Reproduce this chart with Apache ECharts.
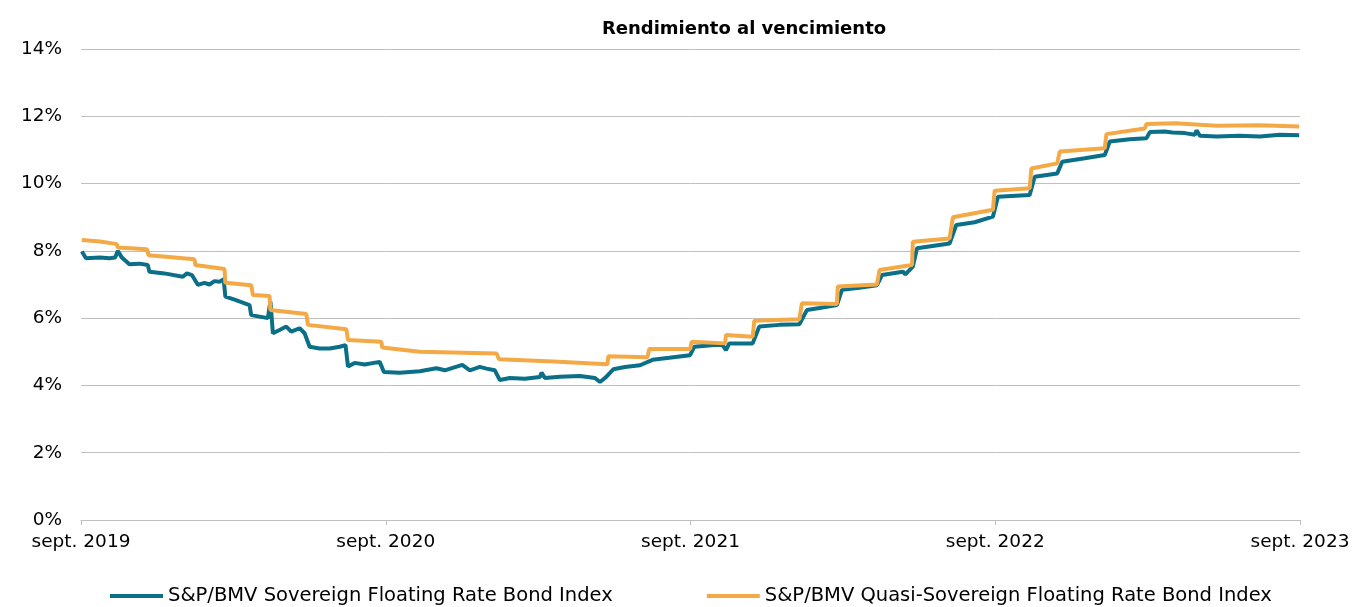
<!DOCTYPE html>
<html>
<head>
<meta charset="utf-8">
<script src="https://cdn.jsdelivr.net/npm/echarts@6/dist/echarts.min.js"></script>
<style>
  html, body { margin: 0; padding: 0; background: #fff; }
  #chart { width: 1356px; height: 607px; }
</style>
</head>
<body>
<div id="chart"></div>
<script>
const SOV_NAME = 'S&P/BMV Sovereign Floating Rate Bond Index';
const QUASI_NAME = 'S&P/BMV Quasi-Sovereign Floating Rate Bond Index';
const START_DATE = '2019-09-01'; //起点（第一个刻度）
const yearLabels = ['sept. 2019', 'sept. 2020', 'sept. 2021', 'sept. 2022', 'sept. 2023'];

//Sovereign 指数
const sovDates = [
  '2019-09-02', '2019-09-07', '2019-09-24', '2019-10-05', '2019-10-12', '2019-10-15', '2019-10-20', '2019-10-29',
  '2019-11-10', '2019-11-20', '2019-11-22', '2019-12-10', '2020-01-01', '2020-01-06', '2020-01-12', '2020-01-19',
  '2020-01-27', '2020-02-02', '2020-02-08', '2020-02-14', '2020-02-19', '2020-02-21', '2020-03-03', '2020-03-21',
  '2020-03-23', '2020-04-12', '2020-04-15', '2020-04-18', '2020-04-26', '2020-05-04', '2020-05-10', '2020-05-20',
  '2020-05-26', '2020-06-01', '2020-06-13', '2020-06-25', '2020-07-07', '2020-07-14', '2020-07-17', '2020-07-25',
  '2020-08-06', '2020-08-24', '2020-08-29', '2020-09-17', '2020-10-11', '2020-10-31', '2020-11-10', '2020-12-01',
  '2020-12-10', '2020-12-22', '2020-12-30', '2021-01-09', '2021-01-15', '2021-01-27', '2021-02-14', '2021-03-04',
  '2021-03-06', '2021-03-10', '2021-03-28', '2021-04-21', '2021-05-09', '2021-05-15', '2021-05-21', '2021-05-31',
  '2021-06-14', '2021-07-02', '2021-07-17', '2021-08-06', '2021-08-31', '2021-09-05', '2021-09-29', '2021-10-09',
  '2021-10-13', '2021-10-17', '2021-11-14', '2021-11-22', '2021-12-16', '2022-01-09', '2022-01-18', '2022-02-02',
  '2022-02-23', '2022-03-01', '2022-03-22', '2022-04-12', '2022-04-18', '2022-05-13', '2022-05-16', '2022-05-25',
  '2022-05-30', '2022-07-08', '2022-07-16', '2022-08-07', '2022-08-29', '2022-09-04', '2022-10-12', '2022-10-18',
  '2022-11-14', '2022-11-20', '2022-12-17', '2023-01-10', '2023-01-16', '2023-02-09', '2023-03-01', '2023-03-05',
  '2023-03-23', '2023-04-01', '2023-04-16', '2023-04-28', '2023-04-30', '2023-05-04', '2023-05-24', '2023-06-20',
  '2023-07-15', '2023-08-08', '2023-08-31'
];
const sovValues = [
  7.98, 7.78, 7.80, 7.78, 7.80, 8.00, 7.80, 7.60,
  7.62, 7.58, 7.38, 7.33, 7.23, 7.33, 7.28, 6.99,
  7.05, 7.00, 7.10, 7.08, 7.16, 6.64, 6.55, 6.39,
  6.09, 6.00, 6.50, 5.55, 5.65, 5.75, 5.60, 5.70,
  5.55, 5.15, 5.10, 5.10, 5.15, 5.20, 4.56, 4.67,
  4.62, 4.70, 4.40, 4.38, 4.42, 4.51, 4.45, 4.61,
  4.45, 4.55, 4.50, 4.45, 4.16, 4.22, 4.20, 4.25,
  4.38, 4.22, 4.26, 4.28, 4.22, 4.10, 4.22, 4.48,
  4.55, 4.60, 4.76, 4.82, 4.90, 5.15, 5.20, 5.20,
  5.05, 5.25, 5.25, 5.75, 5.80, 5.82, 6.24, 6.30,
  6.39, 6.84, 6.90, 6.98, 7.28, 7.38, 7.30, 7.53,
  8.08, 8.22, 8.77, 8.85, 9.02, 9.61, 9.66, 10.20,
  10.30, 10.65, 10.75, 10.85, 11.25, 11.32, 11.35, 11.53,
  11.55, 11.52, 11.50, 11.45, 11.58, 11.42, 11.40, 11.42,
  11.40, 11.45, 11.44
];

//Quasi-Sovereign 指数
const quasiDates = [
  '2019-09-02', '2019-09-24', '2019-10-14', '2019-10-15', '2019-11-19', '2019-11-21', '2020-01-15', '2020-01-16',
  '2020-02-20', '2020-02-21', '2020-03-23', '2020-03-25', '2020-04-14', '2020-04-15', '2020-05-28', '2020-05-30',
  '2020-07-15', '2020-07-17', '2020-08-26', '2020-08-27', '2020-10-11', '2021-01-11', '2021-01-14', '2021-03-20',
  '2021-05-24', '2021-05-25', '2021-07-11', '2021-07-13', '2021-08-31', '2021-09-02', '2021-10-12', '2021-10-13',
  '2021-11-14', '2021-11-16', '2022-01-09', '2022-01-12', '2022-02-23', '2022-02-24', '2022-04-12', '2022-04-15',
  '2022-05-24', '2022-05-25', '2022-07-08', '2022-07-12', '2022-08-29', '2022-08-31', '2022-10-12', '2022-10-14',
  '2022-11-14', '2022-11-17', '2023-01-10', '2023-01-12', '2023-02-27', '2023-03-01', '2023-04-04', '2023-05-24',
  '2023-07-15', '2023-08-31'
];
const quasiValues = [
  8.32, 8.28, 8.20, 8.10, 8.05, 7.87, 7.75, 7.58,
  7.46, 7.05, 6.98, 6.69, 6.66, 6.24, 6.12, 5.80,
  5.67, 5.35, 5.30, 5.13, 5.00, 4.95, 4.78, 4.71,
  4.63, 4.87, 4.84, 5.08, 5.08, 5.30, 5.25, 5.50,
  5.45, 5.92, 5.97, 6.44, 6.42, 6.94, 7.00, 7.43,
  7.58, 8.27, 8.37, 9.00, 9.22, 9.79, 9.86, 10.45,
  10.60, 10.95, 11.05, 11.47, 11.64, 11.77, 11.79, 11.72,
  11.73, 11.70
];

const DAY = 86400000;
const YEAR_DAYS = 365.25;

function toDays(dateStr) { //日期 -> 距起点的天数
  return (Date.parse(dateStr) - Date.parse(START_DATE)) / DAY;
}

function buildLine(dates, values) {
  const arr = [];
  for (let i = 0; i < dates.length; i++) {
    arr.push([toDays(dates[i]), values[i]]);
  }
  return arr;
}

const FONT = 'DejaVu Sans';
const chart = echarts.init(document.getElementById('chart'), null, { renderer: 'canvas' });

const option = {
  animation: false,
  title: {
    text: 'Rendimiento al vencimiento',
    left: 739,
    textAlign: 'center',
    top: 15,
    textStyle: { fontFamily: FONT, fontSize: 18, fontWeight: 'bold', color: '#000' }
  },
  tooltip: { show: false },
  legend: {
    top: 581,
    left: 105,
    itemWidth: 53,
    itemHeight: 4,
    itemGap: 94,
    icon: 'rect',
    textStyle: { fontFamily: FONT, fontSize: 19.5, color: '#000' },
    data: [SOV_NAME, QUASI_NAME]
  },
  grid: {
    left: 81,
    right: 56,
    top: 49,
    bottom: 87,
    containLabel: false
  },
  xAxis: {
    type: 'value',
    min: 0,
    max: toDays('2023-09-01'),
    interval: YEAR_DAYS,
    axisLine: { lineStyle: { color: '#bfbfbf', width: 1 } },
    axisTick: { show: true, length: 5, lineStyle: { color: '#bfbfbf' } },
    splitLine: { show: false },
    axisLabel: {
      showMinLabel: true,
      showMaxLabel: true,
      margin: 13,
      fontFamily: FONT,
      fontSize: 18.5,
      color: '#000',
      formatter: function (v) {
        return yearLabels[Math.round(v / YEAR_DAYS)] || '';
      }
    }
  },
  yAxis: {
    type: 'value',
    min: 0,
    max: 14,
    interval: 2,
    axisLine: { show: false },
    axisTick: { show: false },
    splitLine: { lineStyle: { color: '#bfbfbf', width: 1 } },
    axisLabel: {
      margin: 19,
      fontFamily: FONT,
      fontSize: 18.5,
      color: '#000',
      formatter: '{value}%'
    }
  },
  series: [
    {
      name: SOV_NAME,
      type: 'line',
      data: buildLine(sovDates, sovValues),
      symbol: 'none', //取消折点圆圈
      lineStyle: { color: '#0b6f88', width: 4 },
      itemStyle: { color: '#0b6f88' },
      z: 2
    },
    {
      name: QUASI_NAME,
      type: 'line',
      data: buildLine(quasiDates, quasiValues),
      symbol: 'none',
      lineStyle: { color: '#f4a947', width: 4 },
      itemStyle: { color: '#f4a947' },
      z: 3
    }
  ]
};

chart.setOption(option);
</script>
</body>
</html>
